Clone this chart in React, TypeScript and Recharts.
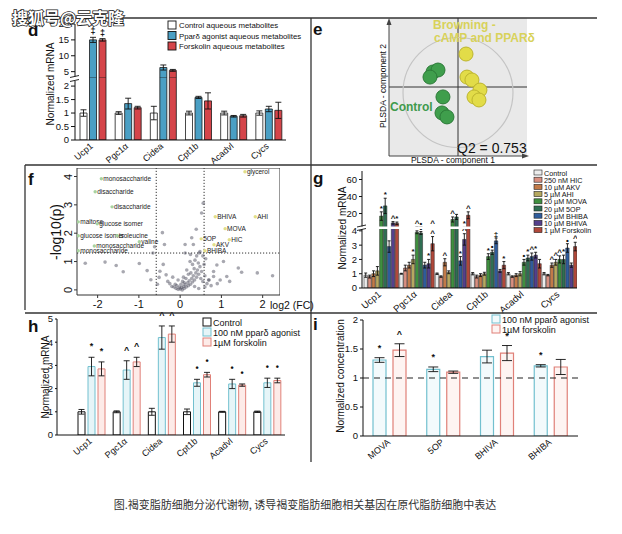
import React from 'react';
import {
  BarChart, Bar, XAxis, YAxis, ErrorBar, LabelList,
  ScatterChart, Scatter, ReferenceLine, ReferenceArea, ReferenceDot,
} from 'recharts';

const FONT = '"Liberation Sans", Arial, Helvetica, sans-serif';
const CJK = '"Noto Sans CJK SC", "Noto Sans", sans-serif';

// ---------------- Panel d ----------------
const dCats = ['Ucp1', 'Pgc1α', 'Cidea', 'Cpt1b', 'Acadvl', 'Cycs'];
const dNames = ['Control aqueous metabolites', 'Pparδ agonist aqueous metabolites', 'Forskolin aqueous metabolites'];
const dControl = [1.0, 1.0, 1.0, 1.0, 1.0, 1.0];
const dPpar = [15.0, 1.35, 6.3, 1.58, 0.88, 1.15];
const dFsk = [15.0, 1.2, 5.4, 1.45, 0.9, 1.1];
const dControlErr = [0.12, 0.05, 0.25, 0.07, 0.07, 0.08];
const dPparErr = [0.8, 0.2, 0.8, 0.04, 0.03, 0.1];
const dFskErr = [0.4, 0.05, 0.3, 0.3, 0.05, 0.3];
const dControlSig = ['', '', '', '', '', ''];
const dPparSig = ['‡', '', '^', '', '', ''];
const dFskSig = ['‡', '', '•', '', '', ''];
const dFills = ['#ffffff', '#4a9fc4', '#d5454a'];

// ---------------- Panel e ----------------
const eControlX = [-1.81, -1.45, -2.03, -1.09, -1.16, -0.8];
const eControlY = [1.09, 1.23, 0.72, -0.72, -1.88, -2.17];
const eBrowningX = [0.58, 0.65, 1.01, 1.59, 1.16, 1.52];
const eBrowningY = [2.39, 0.72, 0.51, -0.22, -0.72, -0.94];

// ---------------- Panel f ----------------
const fGrey: number[][] = [
  [-2.3, 0.94], [-1.82, 0.98], [-1.55, 0.86], [-1.38, 0.64], [-0.99, 0.93], [-0.8, 0.68], [-0.71, 0.36],
  [-0.51, 0.44], [-0.43, 2.02], [-0.38, 1.6], [-0.62, 1.52], [-0.66, 1.3], [-0.41, 0.9], [-0.49, 0.66],
  [-0.34, 0.53], [-0.3, 0.3], [-0.25, 0.22], [-0.55, 0.2], [-0.18, 0.45],
  [-0.15, 0.1], [-0.1, 0.05], [-0.05, 0.02], [0, 0.03], [0.03, 0.08], [0.05, 0.0], [0.08, 0.12], [0.1, 0.05],
  [-0.08, 0.15], [-0.12, 0.2], [0.12, 0.18], [0.15, 0.1], [0.18, 0.25], [0.2, 0.15], [0.22, 0.32], [0.25, 0.2],
  [0.28, 0.4], [0.3, 0.28], [0.32, 0.5], [0.35, 0.35], [0.38, 0.6], [0.4, 0.45], [0.42, 0.7], [0.45, 0.55],
  [0.48, 0.82], [0.5, 0.4], [0.52, 0.65], [0.55, 0.3], [0.6, 0.5], [0.65, 0.22], [0.7, 0.35], [0.75, 0.15],
  [0.02, 0.2], [-0.02, 0.1], [0.06, 0.3], [0.14, 0.4], [0.1, 0.25], [0.26, 0.6], [0.34, 0.75], [0.44, 0.95],
  [0.36, 1.05], [0.3, 0.9], [0.2, 0.55], [0.16, 0.7], [0.08, 0.45], [-0.05, 0.35], [-0.2, 0.12], [0.58, 0.9],
  [0.62, 1.1], [0.55, 1.2], [0.4, 1.2], [0.25, 1.25], [0.12, 1.3], [0.46, 1.3],
  [0.56, 3.06], [0.52, 2.71], [0.39, 2.14], [0.28, 1.84], [0.32, 1.6], [0.12, 1.6], [0.48, 1.35], [0.24, 1.0],
  [1.05, 1.0], [0.89, 0.88], [1.41, 0.77], [1.49, 0.62], [1.87, 0.6], [2.24, 0.5], [0.81, 0.65], [1.13, 0.47],
  [0.97, 0.35], [0.81, 0.47], [0.69, 0.35], [0.9, 0.22], [1.2, 0.3], [0.6, 0.1], [0.45, 0.05], [0.35, 0.12],
];
const fLeftNames = ['monosaccharide', 'disaccharide', 'disaccharide', 'maltose', 'glucose isomer', 'glucose isomer', 'isoleucine', 'monosaccharide', 'valine', 'monosaccharide'];
const fLeftX = [-1.91, -2.06, -1.65, -2.47, -2.01, -2.47, -1.53, -2.08, -0.99, -2.47];
const fLeftY = [3.92, 3.46, 2.93, 2.4, 2.33, 1.91, 1.91, 1.55, 1.7, 1.38];
const fRightNames = ['glycerol', 'BHIVA', 'AHI', 'MOVA', 'HIC', '5OP', 'AKV', 'BHIBA'];
const fRightX = [1.57, 0.85, 1.82, 1.09, 1.19, 0.51, 0.82, 0.6];
const fRightY = [4.17, 2.58, 2.58, 2.16, 1.77, 1.8, 1.59, 1.38];

// ---------------- Panel g ----------------
const gCats = ['Ucp1', 'Pgc1α', 'Cidea', 'Cpt1b', 'Acadvl', 'Cycs'];
const gNames = ['Control', '250 nM HIC', '10 µM AKV', '5 µM AHI', '20 µM MOVA', '20 µM 5OP', '20 µM BHIBA', '10 µM BHIVA', '1 µM Forskolin'];
const gFills = ['#ececec', '#d98f80', '#c27a48', '#b5a860', '#3f8f3f', '#2f6e52', '#2f5c9c', '#54408c', '#b0483a'];
const gControl = [0.9, 1.0, 1.0, 1.0, 1.0, 1.0];
const gHIC = [0.8, 1.4, 0.8, 0.8, 0.8, 0.9];
const gAKV = [1.0, 1.6, 1.8, 0.9, 0.9, 1.6];
const gAHI = [1.2, 2.0, 1.1, 1.0, 1.0, 1.8];
const gMOVA = [17, 3.9, 13, 2.2, 1.8, 2.0];
const gSOP = [29, 3.85, 16, 2.5, 2.1, 2.0];
const gBHIBA = [2.9, 1.6, 1.9, 3.3, 2.2, 2.8];
const gBHIVA = [9, 1.7, 3.4, 1.2, 2.3, 1.6];
const gFsk = [8.5, 3.1, 18, 1.6, 1.7, 2.9];
const gControlErr = [0.15, 0.03, 0.05, 0.08, 0.08, 0.08];
const gHICErr = [0.1, 0.2, 0.05, 0.1, 0.05, 0.05];
const gAKVErr = [0.2, 0.2, 0.25, 0.1, 0.1, 0.15];
const gAHIErr = [0.3, 0.3, 0.1, 0.1, 0.15, 0.2];
const gMOVAErr = [5, 0.1, 3, 0.2, 0.2, 0.25];
const gSOPErr = [9, 0.1, 3, 0.15, 0.2, 0.3];
const gBHIBAErr = [0.4, 0.2, 0.3, 0.2, 0.25, 0.3];
const gBHIVAErr = [1.5, 0.3, 0.4, 0.1, 0.2, 0.15];
const gFskErr = [1.5, 0.5, 4, 0.25, 0.3, 0.3];
const gControlSig = ['', '', '', '', '', ''];
const gHICSig = ['', '', '', '', '', ''];
const gAKVSig = ['', '', '^', '', '', '^'];
const gAHISig = ['', '*', '', '', '', '^'];
const gMOVASig = ['*', '^', '^', '*', '•', '^'];
const gSOPSig = ['*', '•', '', '•', '*', '*'];
const gBHIBASig = ['', '', '*', '‡', '^', '•'];
const gBHIVASig = ['^', '*', '^', '', '*', ''];
const gFskSig = ['*', '^', '^', '*', '', '^'];

// ---------------- Panel h ----------------
const hCats = ['Ucp1', 'Pgc1α', 'Cidea', 'Cpt1b', 'Acadvl', 'Cycs'];
const hNames = ['Control', '100 nM pparδ agonist', '1µM forskolin'];
const hControl = [1.0, 1.0, 1.0, 1.0, 1.0, 1.0];
const hPpar = [2.95, 2.8, 4.2, 2.25, 2.2, 2.25];
const hFsk = [2.85, 3.15, 4.35, 2.6, 2.15, 2.35];
const hControlErr = [0.1, 0.04, 0.15, 0.12, 0.02, 0.03];
const hPparErr = [0.4, 0.4, 0.5, 0.15, 0.2, 0.2];
const hFskErr = [0.3, 0.2, 0.35, 0.1, 0.05, 0.1];
const hControlSig = ['', '', '', '', '', ''];
const hPparSig = ['*', '^', '^', '•', '•', '•'];
const hFskSig = ['*', '^', '^', '•', '•', '•'];
const hFills = ['#ffffff', '#e6f5f8', '#fdebe8'];
const hStrokes = ['#111111', '#72c0cf', '#e08078'];

// ---------------- Panel i ----------------
const iCats = ['MOVA', '5OP', 'BHIVA', 'BHIBA'];
const iNames = ['100 nM pparδ agonist', '1µM forskolin'];
const iPpar = [1.31, 1.15, 1.37, 1.21];
const iFsk = [1.48, 1.1, 1.43, 1.19];
const iPparErr = [0.04, 0.04, 0.11, 0.02];
const iFskErr = [0.11, 0.02, 0.13, 0.13];
const iPparSig = ['*', '*', '', '*'];
const iFskSig = ['^', '', '*', ''];
const iFills = ['#f3fafc', '#fef4f2'];
const iStrokes = ['#72c0cf', '#e08078'];

type Series = { values: number[]; errs: number[]; sigs: string[]; fill: string; stroke: string };

const dSeries: Series[] = [
  { values: dControl, errs: dControlErr, sigs: dControlSig, fill: dFills[0], stroke: '#1a1a1a' },
  { values: dPpar, errs: dPparErr, sigs: dPparSig, fill: dFills[1], stroke: '#1a1a1a' },
  { values: dFsk, errs: dFskErr, sigs: dFskSig, fill: dFills[2], stroke: '#1a1a1a' },
];
const gVals = [gControl, gHIC, gAKV, gAHI, gMOVA, gSOP, gBHIBA, gBHIVA, gFsk];
const gErrs = [gControlErr, gHICErr, gAKVErr, gAHIErr, gMOVAErr, gSOPErr, gBHIBAErr, gBHIVAErr, gFskErr];
const gSigs = [gControlSig, gHICSig, gAKVSig, gAHISig, gMOVASig, gSOPSig, gBHIBASig, gBHIVASig, gFskSig];
const gSeries: Series[] = gVals.map((v, k) => ({ values: v, errs: gErrs[k], sigs: gSigs[k], fill: gFills[k], stroke: '#222' }));
const hSeries: Series[] = [
  { values: hControl, errs: hControlErr, sigs: hControlSig, fill: hFills[0], stroke: hStrokes[0] },
  { values: hPpar, errs: hPparErr, sigs: hPparSig, fill: hFills[1], stroke: hStrokes[1] },
  { values: hFsk, errs: hFskErr, sigs: hFskSig, fill: hFills[2], stroke: hStrokes[2] },
];
const iSeries: Series[] = [
  { values: iPpar, errs: iPparErr, sigs: iPparSig, fill: iFills[0], stroke: iStrokes[0] },
  { values: iFsk, errs: iFskErr, sigs: iFskSig, fill: iFills[1], stroke: iStrokes[1] },
];

function buildRows(cats: string[], series: Series[], minShow: number | null) {
  return cats.map((c, i) => {
    const r: any = { cat: c };
    series.forEach((s, k) => {
      const v = s.values[i];
      const show = minShow == null || v > minShow;
      r['v' + k] = show ? v : null;
      r['e' + k] = show ? s.errs[i] : null;
    });
    return r;
  });
}

function makeSig(sigs: string[], errs: number[], ppu: number, minV: number, maxV: number, fs: number, extra: number) {
  return (props: any) => {
    const vb = props.viewBox || {};
    const x = props.x ?? vb.x;
    const y = props.y ?? vb.y;
    const w = props.width ?? vb.width;
    const idx = props.index;
    const v = props.value;
    if (v == null || idx == null || x == null) return null;
    if (v > maxV || v < minV) return null;
    const s = sigs[idx];
    if (!s) return null;
    const e = errs[idx] || 0;
    return (
      <text x={x + w / 2} y={y - e * ppu - extra} textAnchor="middle" fontSize={fs} fontFamily={FONT} fill="#111" fontWeight="bold">
        {s}
      </text>
    );
  };
}

const RotTick = (props: any) => {
  const { x, y, payload, fs } = props;
  const ax = x + 1;
  const ay = y + fs * 0.35;
  return (
    <text x={ax} y={ay} transform={`rotate(-40 ${ax} ${ay})`} textAnchor="end"
      fontSize={fs} fontFamily={FONT} fill="#111">
      {payload.value}
    </text>
  );
};

type PanelProps = {
  left: number; top: number; width: number; height: number; marginTop: number; yWidth: number; xHeight: number;
  data: any[]; series: Series[]; domain: number[]; ticks: number[]; barSize: number; barGap: number; padLeft: number;
  hideX: boolean; tickFs: number; xTickFs: number; ppu: number; minV: number; maxV: number; sigFs: number;
  sigExtra: number; capW: number; strokeW: number; yTickSize: number; children?: any;
};

function BarPanel(p: PanelProps) {
  return (
    <div style={{ position: 'absolute', left: p.left, top: p.top }}>
      <BarChart width={p.width} height={p.height} data={p.data}
        margin={{ top: p.marginTop, right: 0, bottom: 0, left: 0 }} barGap={p.barGap}>
        <XAxis dataKey="cat" hide={p.hideX} height={p.xHeight} interval={0} tickSize={2}
          tick={(tp: any) => <RotTick {...tp} fs={p.xTickFs} />}
          tickLine={false} axisLine={{ stroke: '#111', strokeWidth: 1 }} padding={{ left: p.padLeft, right: 0 }} />
        <YAxis type="number" width={p.yWidth} domain={p.domain} ticks={p.ticks} allowDataOverflow interval={0}
          tick={{ fontSize: p.tickFs, fill: '#111', fontFamily: FONT }} tickSize={p.yTickSize}
          axisLine={{ stroke: '#111', strokeWidth: 1 }} tickLine={{ stroke: '#111' }} />
        {p.children}
        {p.series.map((s, k) => (
          <Bar key={k} dataKey={'v' + k} barSize={p.barSize} fill={s.fill} stroke={s.stroke}
            strokeWidth={p.strokeW} isAnimationActive={false}>
            <ErrorBar dataKey={'e' + k} width={p.capW} stroke="#111" strokeWidth={0.9} direction="y" />
            <LabelList dataKey={'v' + k}
              content={makeSig(s.sigs, s.errs, p.ppu, p.minV, p.maxV, p.sigFs, p.sigExtra)} />
          </Bar>
        ))}
      </BarChart>
    </div>
  );
}

const greyDot = (p: any) => <circle cx={p.cx} cy={p.cy} r={1.8} fill="#3e3e50" fillOpacity={0.45} />;
const labelDot = (color: string) => (p: any) => (
  <g>
    <circle cx={p.cx} cy={p.cy} r={1.7} fill={color} />
    <text x={p.cx + 2} y={p.cy + 2.2} fontSize={6.5} fontFamily={FONT} fill="#222">{p.payload.name}</text>
  </g>
);
const bigDot = (fill: string, stroke: string) => (p: any) => (
  <circle cx={p.cx} cy={p.cy} r={7} fill={fill} stroke={stroke} strokeWidth={1} />
);

const FYTick = (p: any) => (
  <text x={p.x} y={p.y} transform={`rotate(-90 ${p.x} ${p.y})`} textAnchor="middle" fontSize={11}
    fontFamily={FONT} fill="#111">{p.payload.value}</text>
);

export default function App() {
  const dLowerRows = buildRows(dCats, dSeries, null);
  const dUpperRows = buildRows(dCats, dSeries, 3);
  const gLowerRows = buildRows(gCats, gSeries, null);
  const gUpperRows = buildRows(gCats, gSeries, 3);
  const hRows = buildRows(hCats, hSeries, null);
  const iRows = buildRows(iCats, iSeries, null);

  const eControl = eControlX.map((x, i) => ({ x, y: eControlY[i] }));
  const eBrowning = eBrowningX.map((x, i) => ({ x, y: eBrowningY[i] }));
  const fGreyData = fGrey.map(([x, y]) => ({ x, y }));
  const fLeftData = fLeftNames.map((name, i) => ({ name, x: fLeftX[i], y: fLeftY[i] }));
  const fRightData = fRightNames.map((name, i) => ({ name, x: fRightX[i], y: fRightY[i] }));

  const letter = { fontSize: 17, fontWeight: 'bold' as const, fontFamily: FONT, fill: '#111' };
  const ylab = { fontSize: 10, fontFamily: FONT, fill: '#111', textAnchor: 'middle' as const };

  return (
    <div style={{ position: 'absolute', left: 0, top: 0, width: 622, height: 534, background: '#fff', overflow: 'hidden', fontFamily: FONT }}>
      {/* Panel d */}
      <BarPanel left={35} top={14} width={251} height={64} marginTop={10} yWidth={40} xHeight={0}
        data={dUpperRows} series={dSeries} domain={[3, 20]} ticks={[5, 10, 15, 20]} barSize={7} barGap={2.5}
        padLeft={0} hideX tickFs={9.5} xTickFs={9} ppu={3.176} minV={3} maxV={20} sigFs={9} sigExtra={3} capW={3} strokeW={0.8} yTickSize={4} />
      <BarPanel left={35} top={70} width={251} height={110} marginTop={8} yWidth={40} xHeight={40}
        data={dLowerRows} series={dSeries} domain={[0, 2.3]} ticks={[0, 0.5, 1, 1.5, 2]} barSize={7} barGap={2.5}
        padLeft={0} hideX={false} tickFs={9.5} xTickFs={9} ppu={26.96} minV={0} maxV={2.3} sigFs={9} sigExtra={3} capW={3} strokeW={0.8} yTickSize={4} />

      {/* Panel e */}
      <div style={{ position: 'absolute', left: 389, top: 18 }}>
        <ScatterChart width={138} height={138} margin={{ top: 0, right: 0, bottom: 0, left: 0 }}>
          <XAxis type="number" dataKey="x" domain={[-5, 5]} hide allowDataOverflow />
          <YAxis type="number" dataKey="y" domain={[-5, 5]} hide allowDataOverflow />
          <ReferenceArea x1={-5} x2={5} y1={-5} y2={5} fill="#e9e9e9" fillOpacity={1} stroke="none" ifOverflow="visible" />
          <ReferenceDot x={0} y={-0.4} r={55} fill="none" stroke="#c4c4c4" strokeWidth={1.2} ifOverflow="visible" />
          <ReferenceLine x={0} stroke="#333" strokeWidth={1} />
          <ReferenceLine y={0} stroke="#333" strokeWidth={1} />
          <Scatter data={eControl} shape={bigDot('#3f9e4c', '#2c7a38')} isAnimationActive={false} />
          <Scatter data={eBrowning} shape={bigDot('#e2dc48', '#bdb52e')} isAnimationActive={false} />
        </ScatterChart>
      </div>

      {/* Panel f */}
      <div style={{ position: 'absolute', left: 57, top: 168 }}>
        <ScatterChart width={223} height={147} margin={{ top: 0, right: 0, bottom: 0, left: 0 }}>
          <XAxis type="number" dataKey="x" domain={[-2.5, 2.42]} ticks={[-2, -1, 0, 1, 2]} allowDataOverflow height={20}
            tick={{ fontSize: 11, fill: '#111', fontFamily: FONT }} tickSize={3} axisLine={false} tickLine={{ stroke: '#333' }} />
          <YAxis type="number" dataKey="y" domain={[-0.18, 4.3]} ticks={[0, 1, 2, 3, 4]} allowDataOverflow width={20}
            tick={FYTick} tickSize={3} axisLine={false} tickLine={{ stroke: '#333' }} />
          <ReferenceArea x1={-2.5} x2={2.42} y1={-0.18} y2={4.3} fill="none" stroke="#333" strokeWidth={1} ifOverflow="visible" />
          <ReferenceLine x={-0.58} stroke="#333" strokeDasharray="1.2 1.8" />
          <ReferenceLine x={0.58} stroke="#333" strokeDasharray="1.2 1.8" />
          <ReferenceLine y={1.3} stroke="#333" strokeDasharray="1.2 1.8" />
          <Scatter data={fGreyData} shape={greyDot} isAnimationActive={false} />
          <Scatter data={fLeftData} shape={labelDot('#a9d3a0')} isAnimationActive={false} />
          <Scatter data={fRightData} shape={labelDot('#e2df88')} isAnimationActive={false} />
        </ScatterChart>
      </div>

      {/* Panel g */}
      <BarPanel left={334} top={165} width={243} height={63} marginTop={6} yWidth={28} xHeight={0}
        data={gUpperRows} series={gSeries} domain={[3, 70]} ticks={[20, 40, 60]} barSize={3.4} barGap={0.5}
        padLeft={1} hideX tickFs={9.5} xTickFs={9.5} ppu={0.851} minV={3} maxV={70} sigFs={8} sigExtra={1} capW={1.5} strokeW={0.5} yTickSize={3} />
      <BarPanel left={334} top={228} width={243} height={100} marginTop={0} yWidth={28} xHeight={40}
        data={gLowerRows} series={gSeries} domain={[0, 4.2]} ticks={[0, 1, 2, 3, 4]} barSize={3.4} barGap={0.5}
        padLeft={1} hideX={false} tickFs={9.5} xTickFs={9.5} ppu={14.29} minV={0} maxV={4.2} sigFs={8} sigExtra={1} capW={1.5} strokeW={0.5} yTickSize={3} />

      {/* Panel h */}
      <BarPanel left={32} top={311} width={253} height={164} marginTop={8} yWidth={25} xHeight={40}
        data={hRows} series={hSeries} domain={[0, 5]} ticks={[0, 1, 2, 3, 4, 5]} barSize={7} barGap={3}
        padLeft={17} hideX={false} tickFs={9.5} xTickFs={9} ppu={23.2} minV={0} maxV={5} sigFs={9} sigExtra={8} capW={3} strokeW={1} yTickSize={2} />

      {/* Panel i */}
      <BarPanel left={338} top={312} width={240} height={164} marginTop={8} yWidth={25} xHeight={40}
        data={iRows} series={iSeries} domain={[0, 2]} ticks={[0, 0.5, 1, 1.5, 2]} barSize={13} barGap={7}
        padLeft={0} hideX={false} tickFs={9.5} xTickFs={9} ppu={58} minV={0} maxV={2} sigFs={9} sigExtra={7} capW={5} strokeW={1.2} yTickSize={3}>
        <ReferenceLine y={1} stroke="#222" strokeWidth={1.2} strokeDasharray="6 5" />
      </BarPanel>

      {/* Overlay */}
      <svg width={622} height={534} style={{ position: 'absolute', left: 0, top: 0, pointerEvents: 'none' }}>
        <g stroke="#333" strokeWidth={1.3}>
          <line x1={25} y1={18} x2={597} y2={18} />
          <line x1={311} y1={18} x2={311} y2={462} />
          <line x1={25} y1={165} x2={597} y2={165} />
          <line x1={25} y1={313} x2={597} y2={313} />
          <line x1={25} y1={165} x2={25} y2={310} />
        </g>

        {/* panel letters */}
        <text x={28} y={36} {...letter}>d</text>
        <text x={313} y={35} {...letter}>e</text>
        <text x={28} y={185} {...letter}>f</text>
        <text x={313} y={184} {...letter}>g</text>
        <text x={28} y={332} {...letter}>h</text>
        <text x={313} y={330} {...letter}>i</text>

        {/* axis titles */}
        <text transform="translate(54,84) rotate(-90)" {...ylab}>Normalized mRNA</text>
        <text transform="translate(346,228) rotate(-90)" {...ylab}>Normalized mRNA</text>
        <text transform="translate(49,377) rotate(-90)" {...ylab}>Normalized mRNA</text>
        <text transform="translate(344,376) rotate(-90)" {...ylab}>Normalized concentration</text>
        <text transform="translate(61,232) rotate(-90)" fontSize={14} fontFamily={FONT} fill="#111" textAnchor="middle">-log10(p)</text>
        <text x={270} y={309} fontSize={10.5} fontFamily={FONT} fill="#111">log2 (FC)</text>

        {/* broken axis marks */}
        <rect x={71} y={76.5} width={8} height={4.5} fill="#fff" />
        <line x1={70} y1={77.5} x2={79} y2={75.5} stroke="#111" strokeWidth={0.9} />
        <line x1={70} y1={81.5} x2={79} y2={79.5} stroke="#111" strokeWidth={0.9} />
        <rect x={358} y={226.5} width={219} height={2.5} fill="#fff" />
        <line x1={357} y1={227} x2={366} y2={225} stroke="#111" strokeWidth={0.9} />
        <line x1={357} y1={230.5} x2={366} y2={228.5} stroke="#111" strokeWidth={0.9} />

        {/* panel e decorations */}
        <line x1={389} y1={156} x2={389} y2={22} stroke="#444" strokeWidth={1} />
        <polygon points="389,18 386.5,25 391.5,25" fill="#444" />
        <line x1={389} y1={156} x2={524} y2={156} stroke="#444" strokeWidth={1} />
        <polygon points="529,156 522,153.5 522,158.5" fill="#444" />
        <text x={433} y={29} fontSize={12} fontWeight="bold" fontFamily={FONT} fill="#d8d25a">Browning -</text>
        <text x={434} y={42} fontSize={12} fontWeight="bold" fontFamily={FONT} fill="#d8d25a">cAMP and PPARδ</text>
        <text x={390} y={111} fontSize={12} fontWeight="bold" fontFamily={FONT} fill="#3f9a4c">Control</text>
        <text x={457} y={153} fontSize={14} fontFamily={FONT} fill="#111">Q2 = 0.753</text>
        <text x={453} y={163} fontSize={8.5} fontFamily={FONT} fill="#111" textAnchor="middle">PLSDA - component 1</text>
        <text transform="translate(386,86) rotate(-90)" fontSize={8.5} fontFamily={FONT} fill="#111" textAnchor="middle">PLSDA - component 2</text>

        {/* legend d */}
        {dNames.map((n, k) => (
          <g key={'dl' + k}>
            <rect x={168} y={21 + k * 10.5} width={8} height={8} fill={dFills[k]} stroke="#111" strokeWidth={0.9} />
            <text x={179} y={28 + k * 10.5} fontSize={7.8} fontFamily={FONT} fill="#111">{n}</text>
          </g>
        ))}
        {/* legend g */}
        {gNames.map((n, k) => (
          <g key={'gl' + k}>
            <rect x={534} y={170 + k * 7.2} width={8} height={5} fill={gFills[k]} stroke="#222" strokeWidth={0.6} />
            <text x={544} y={175.5 + k * 7.2} fontSize={7.2} fontFamily={FONT} fill="#111">{n}</text>
          </g>
        ))}
        {/* legend h */}
        {hNames.map((n, k) => (
          <g key={'hl' + k}>
            <rect x={203} y={318 + k * 10} width={8} height={8} fill={hFills[k]} stroke={hStrokes[k]} strokeWidth={1} />
            <text x={213} y={325.5 + k * 10} fontSize={9} fontFamily={FONT} fill="#111">{n}</text>
          </g>
        ))}
        {/* legend i */}
        {iNames.map((n, k) => (
          <g key={'il' + k}>
            <rect x={492} y={315 + k * 10} width={8} height={8} fill={iFills[k]} stroke={iStrokes[k]} strokeWidth={1} />
            <text x={502} y={322.5 + k * 10} fontSize={9} fontFamily={FONT} fill="#111">{n}</text>
          </g>
        ))}

        {/* caption */}
        <text x={305} y={509} textAnchor="middle" fontSize={11} fontFamily={CJK} fill="#333">
          图.褐变脂肪细胞分泌代谢物, 诱导褐变脂肪细胞相关基因在原代脂肪细胞中表达
        </text>
        {/* watermark */}
        <text x={12} y={24} fontSize={16} fontWeight="bold" fontFamily={CJK} fill="#fff" stroke="#222"
          strokeWidth={1.6} paintOrder="stroke">搜狐号@云克隆</text>
      </svg>
    </div>
  );
}
